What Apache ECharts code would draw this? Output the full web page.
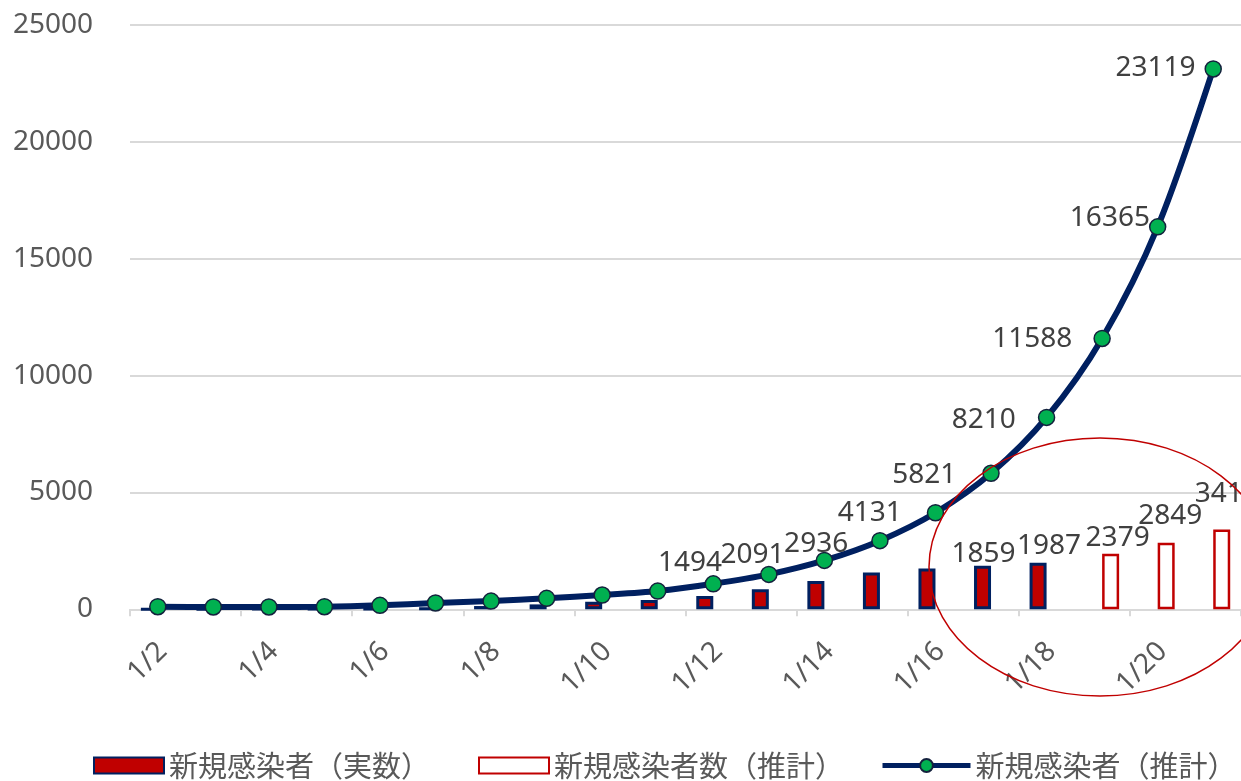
<!DOCTYPE html>
<html>
<head>
<meta charset="utf-8">
<script src="https://cdn.jsdelivr.net/npm/echarts@6/dist/echarts.min.js"></script>
<style>
  html, body { margin: 0; padding: 0; background: #ffffff; }
  #chart { width: 1241px; height: 781px; }
</style>
</head>
<body>
<div id="chart"></div>
<script>
// Daily dates on the category axis
const dates = ['1/2','1/3','1/4','1/5','1/6','1/7','1/8','1/9','1/10','1/11',
               '1/12','1/13','1/14','1/15','1/16','1/17','1/18','1/19','1/20','1/21'];

// New infections, reported counts (bars)
const actualCases = [10, 10, 15, 20, 30, 50, 140, 210, 320, 395,
                     565, 860, 1210, 1570, 1750, 1859, 1987, null, null, null];

// New infections, estimated counts (outlined bars)
const estimatedCases = [null, null, null, null, null, null, null, null, null, null,
                        null, null, null, null, null, null, null, 2379, 2849, 3412];

// New infections, estimated curve (line)
const estimatedCurve = [110, 100, 100, 110, 170, 270, 350, 470, 610, 780,
                        1090, 1494, 2091, 2936, 4131, 5821, 8210, 11588, 16365, 23119];

// Value axis ticks
const yTicks = { min: 0, max: 25000, interval: 5000 };

// Series names (legend text)
const seriesNames = ['新規感染者（実数）', '新規感染者数（推計）', '新規感染者（推計）'];

// Label placement tweaks, keyed by category index
const curveLabelOffsets = {
  11: [-16, -11], 12: [-9, -5], 13: [-1, 3], 14: [-3, 0], 15: [-4, 2],
  16: [0, 3], 17: [1, 1], 18: [23, -9], 19: [13, -1]
};
const actualLabelOffsets = { 15: [1, 2], 16: [11, -3] };
const estimatedLabelOffsets = { 17: [7, -2], 18: [4, -13], 19: [5, -22] };

const NAVY = '#002060';
const RED = '#C00000';
const GREEN = '#00B050';
const DIGIT_FONT = '"Noto Sans", "DejaVu Sans", sans-serif';
const CJK_FONT = '"Noto Sans CJK JP", "Noto Sans", sans-serif';

function withLabels(values, offsets, base) {
  return values.map((v, i) => {
    if (offsets[i] === undefined || v === null) return v;
    return { value: v, label: Object.assign({ show: true, offset: offsets[i] }, base) };
  });
}

const valueLabel = {
  fontFamily: DIGIT_FONT, fontSize: 28, color: '#404040'
};

const chart = echarts.init(document.getElementById('chart'), null, { renderer: 'canvas' });

const legendText = { fontFamily: CJK_FONT, fontSize: 29, color: '#595959' };
const legendBase = { top: 751, padding: 0, itemHeight: 16, itemGap: 0, textStyle: legendText };

chart.setOption({
  backgroundColor: '#ffffff',
  animation: false,
  grid: { left: 130, top: 25, width: 1113, height: 584.3, containLabel: false },
  legend: [
    Object.assign({ data: [seriesNames[0]], left: 93, itemWidth: 70, icon: 'rect' }, legendBase),
    Object.assign({ data: [seriesNames[1]], left: 478, itemWidth: 70, icon: 'rect' }, legendBase),
    Object.assign({ data: [seriesNames[2]], left: 880, itemWidth: 88,
      lineStyle: { width: 5 } }, legendBase)
  ],
  xAxis: {
    type: 'category',
    data: dates,
    boundaryGap: true,
    axisLine: { show: true, lineStyle: { color: '#d9d9d9', width: 2 } },
    axisTick: { show: true, interval: 1, length: 7, lineStyle: { color: '#d9d9d9', width: 2 } },
    axisLabel: {
      interval: 1, rotate: 45, margin: 23,
      align: 'right', verticalAlign: 'top', padding: [0, 7, 0, 0],
      fontFamily: DIGIT_FONT, fontSize: 28, color: '#595959'
    },
    splitLine: { show: false }
  },
  yAxis: {
    type: 'value',
    min: yTicks.min, max: yTicks.max, interval: yTicks.interval,
    axisLine: { show: false },
    axisTick: { show: false },
    axisLabel: {
      margin: 37, fontFamily: DIGIT_FONT, fontSize: 28, color: '#595959',
      formatter: (v) => String(v)
    },
    splitLine: { show: true, lineStyle: { color: '#d9d9d9', width: 2 } }
  },
  series: [
    {
      name: seriesNames[0],
      type: 'bar',
      barWidth: 17,
      barGap: '0%',
      data: withLabels(actualCases, actualLabelOffsets, valueLabel),
      itemStyle: { color: RED, borderColor: NAVY, borderWidth: 3 },
      label: Object.assign({ show: false, position: 'top', distance: 0 }, valueLabel),
      z: 2
    },
    {
      name: seriesNames[1],
      type: 'bar',
      barWidth: 17,
      barGap: '0%',
      data: withLabels(estimatedCases, estimatedLabelOffsets, valueLabel),
      itemStyle: { color: '#ffffff', borderColor: RED, borderWidth: 2.5 },
      label: Object.assign({ show: false, position: 'top', distance: 0 }, valueLabel),
      z: 2
    },
    {
      name: seriesNames[2],
      type: 'line',
      smooth: 0.3,
      data: withLabels(estimatedCurve, curveLabelOffsets, valueLabel),
      symbol: 'circle',
      symbolSize: 16,
      showAllSymbol: true,
      lineStyle: { color: NAVY, width: 6 },
      itemStyle: { color: GREEN, borderColor: '#14213d', borderWidth: 1.5 },
      label: Object.assign({ show: false, position: 'left', distance: 22 }, valueLabel),
      z: 3
    }
  ],
  graphic: [
    {
      type: 'ellipse',
      shape: { cx: 1100, cy: 567, rx: 171, ry: 129 },
      style: { fill: 'none', stroke: RED, lineWidth: 1.5 },
      silent: true,
      z: 100
    }
  ]
});
</script>
</body>
</html>
